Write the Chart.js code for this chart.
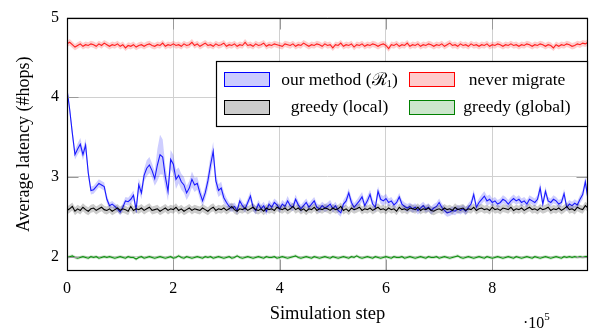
<!DOCTYPE html>
<html>
<head>
<meta charset="utf-8">
<script src="https://cdn.jsdelivr.net/npm/chart.js@4.4.1/dist/chart.umd.min.js"></script>
<style>
html, body { margin: 0; padding: 0; background: #fff; }
#wrap { width: 595px; height: 335px; }
</style>
</head>
<body>
<div id="wrap"><canvas id="c" width="595" height="335"></canvas></div>
<script>
// simulation step between two samples
const stepSize = 5000;

// our method (R1) - mean and spread
const ourMethod = [
  4.10,3.85,3.55,3.28,3.35,3.41,3.28,3.40,3.05,2.83,
  2.84,2.88,2.92,2.90,2.88,2.72,2.64,2.66,2.63,2.60,
  2.56,2.62,2.70,2.69,2.72,2.77,2.59,2.90,2.80,3.02,
  3.11,3.15,3.08,2.98,3.15,3.28,3.25,3.00,2.82,3.22,
  3.16,2.97,3.02,2.94,2.90,2.80,2.86,2.97,2.90,2.92,
  2.80,2.70,2.80,2.95,3.15,3.32,2.95,2.83,2.86,2.74,
  2.68,2.63,2.61,2.63,2.58,2.70,
  2.64,2.60,2.68,2.76,2.62,2.58,2.66,2.60,2.64,2.57,
  2.66,2.62,2.68,2.65,2.60,2.66,2.63,2.70,2.64,2.62,
  2.72,2.65,2.60,2.64,2.68,2.62,2.66,2.70,2.62,2.60,
  2.64,2.61,2.63,2.66,2.60,2.64,2.58,2.55,2.66,2.70,
  2.80,2.68,2.62,2.66,2.70,2.75,2.64,2.70,2.78,2.66,
  2.62,2.82,2.72,2.70,2.73,2.68,2.70,2.65,2.68,2.75,
  2.66,2.63,2.61,2.63,2.60,2.62,2.58,2.61,2.64,2.60,
  2.62,2.58,2.61,2.63,2.68,2.62,2.58,2.55,2.56,2.58,
  2.57,2.60,2.58,2.60,2.57,2.62,2.66,2.78,2.62,2.68,
  2.72,2.76,2.70,2.72,2.68,2.70,2.66,2.68,2.72,2.70,
  2.66,2.70,2.73,2.70,2.72,2.68,2.70,2.66,2.72,2.70,
  2.68,2.72,2.86,2.66,2.82,2.70,2.68,2.72,2.70,2.66,
  2.68,2.79,2.62,2.66,2.64,2.67,2.65,2.72,2.78,2.94,2.72
];
const ourMethodSpread = [
  0.02,0.05,0.06,0.06,0.07,0.08,0.07,0.08,0.07,0.05,
  0.05,0.05,0.05,0.05,0.05,0.05,0.04,0.04,0.04,0.04,
  0.04,0.05,0.05,0.05,0.06,0.06,0.05,0.08,0.08,0.08,
  0.10,0.10,0.09,0.09,0.20,0.25,0.22,0.14,0.12,0.12,
  0.12,0.12,0.10,0.10,0.10,0.09,0.09,0.10,0.09,0.08,
  0.08,0.07,0.08,0.10,0.12,0.12,0.10,0.08,0.08,0.07,
  0.06,0.05,0.05,0.05,0.05,0.05,
  0.05,0.05,0.05,0.06,0.05,0.05,0.05,0.05,0.05,0.05,
  0.05,0.05,0.05,0.05,0.05,0.05,0.05,0.06,0.05,0.05,
  0.06,0.05,0.05,0.05,0.05,0.05,0.05,0.05,0.05,0.05,
  0.05,0.05,0.05,0.05,0.05,0.05,0.05,0.05,0.05,0.06,
  0.06,0.06,0.05,0.05,0.06,0.06,0.05,0.06,0.06,0.06,
  0.06,0.06,0.06,0.06,0.06,0.05,0.05,0.05,0.05,0.05,
  0.05,0.05,0.05,0.05,0.05,0.05,0.05,0.05,0.05,0.05,
  0.05,0.05,0.05,0.05,0.05,0.05,0.05,0.05,0.05,0.05,
  0.05,0.05,0.05,0.05,0.05,0.05,0.05,0.06,0.05,0.05,
  0.06,0.06,0.06,0.06,0.05,0.05,0.05,0.05,0.05,0.05,
  0.05,0.05,0.05,0.05,0.05,0.05,0.05,0.05,0.05,0.05,
  0.05,0.05,0.07,0.05,0.06,0.05,0.05,0.05,0.05,0.05,
  0.05,0.06,0.05,0.05,0.05,0.05,0.05,0.05,0.06,0.07,0.05
];

// never migrate
const neverMigrate = [
  4.67,4.69,4.66,4.63,4.65,4.67,4.64,4.66,4.65,4.67,
  4.66,4.64,4.67,4.65,4.68,4.66,4.64,4.66,4.65,4.67,
  4.64,4.66,4.62,4.65,4.64,4.66,4.63,4.65,4.66,4.64,
  4.66,4.67,4.65,4.64,4.66,4.65,4.68,4.64,4.66,4.65,
  4.67,4.65,4.66,4.64,4.67,4.65,4.66,4.69,4.65,4.67,
  4.64,4.66,4.68,4.65,4.66,4.64,4.67,4.65,4.66,4.68,
  4.64,4.66,4.65,4.67,4.64,4.66,4.65,4.69,4.65,4.66,
  4.64,4.67,4.65,4.66,4.68,4.64,4.66,4.65,4.67,4.66,
  4.65,4.64,4.67,4.66,4.65,4.67,4.64,4.66,4.65,4.68,
  4.66,4.64,4.66,4.65,4.67,4.66,4.64,4.67,4.65,4.66,
  4.62,4.66,4.65,4.68,4.64,4.66,4.65,4.67,4.63,4.66,
  4.65,4.67,4.64,4.66,4.65,4.67,4.66,4.64,4.66,4.67,
  4.65,4.61,4.66,4.65,4.67,4.64,4.66,4.65,4.68,4.64,
  4.66,4.65,4.67,4.64,4.66,4.65,4.67,4.66,4.64,4.66,
  4.65,4.67,4.64,4.66,4.68,4.65,4.66,4.64,4.67,4.65,
  4.66,4.64,4.67,4.65,4.66,4.64,4.66,4.65,4.67,4.64,
  4.66,4.65,4.67,4.66,4.64,4.66,4.65,4.67,4.65,4.66,
  4.64,4.66,4.65,4.67,4.66,4.64,4.66,4.65,4.67,4.66,
  4.64,4.66,4.65,4.62,4.66,4.64,4.66,4.65,4.67,4.66,
  4.64,4.65,4.67,4.66,4.68,4.67,4.69
];
const neverMigrateSpread = 0.04;

// greedy (local)
const greedyLocal = [
  2.58,2.60,2.63,2.57,2.60,2.58,2.62,2.59,2.57,2.60,
  2.61,2.58,2.60,2.62,2.59,2.58,2.60,2.57,2.59,2.61,
  2.58,2.60,2.59,2.57,2.63,2.58,2.60,2.59,2.61,2.58,
  2.60,2.62,2.58,2.59,2.60,2.57,2.59,2.61,2.58,2.60,
  2.59,2.62,2.58,2.60,2.57,2.59,2.61,2.58,2.60,2.59,
  2.58,2.61,2.59,2.57,2.60,2.62,2.58,2.60,2.59,2.61,
  2.58,2.60,2.63,2.59,2.57,2.60,2.59,2.61,2.58,2.60,
  2.62,2.59,2.58,2.60,2.57,2.61,2.59,2.60,2.58,2.62,
  2.60,2.59,2.61,2.58,2.60,2.63,2.59,2.61,2.58,2.60,
  2.57,2.60,2.59,2.62,2.58,2.60,2.59,2.61,2.60,2.58,
  2.61,2.59,2.60,2.63,2.58,2.60,2.57,2.61,2.59,2.60,
  2.62,2.58,2.60,2.59,2.61,2.58,2.60,2.62,2.59,2.60,
  2.58,2.61,2.59,2.60,2.57,2.62,2.59,2.60,2.58,2.61,
  2.60,2.59,2.62,2.58,2.60,2.59,2.61,2.58,2.57,2.59,
  2.60,2.58,2.61,2.59,2.60,2.58,2.62,2.59,2.60,2.61,
  2.58,2.60,2.59,2.62,2.58,2.60,2.61,2.59,2.60,2.58,
  2.62,2.59,2.60,2.58,2.61,2.60,2.59,2.62,2.58,2.60,
  2.59,2.61,2.58,2.60,2.62,2.59,2.60,2.58,2.61,2.59,
  2.60,2.62,2.58,2.60,2.59,2.61,2.58,2.60,2.63,2.59,
  2.60,2.58,2.62,2.60,2.59,2.64,2.61
];
const greedyLocalSpread = 0.05;

// greedy (global)
const greedyGlobal = [
  1.99,2.00,2.01,1.99,1.98,1.99,2.00,1.99,1.98,2.00,
  1.99,2.00,1.98,1.99,2.00,1.99,2.00,1.99,1.98,1.99,
  2.00,1.99,1.98,2.00,1.99,1.99,1.97,1.99,2.00,1.98,
  1.99,2.00,1.99,1.98,1.99,2.00,1.99,1.98,1.99,2.00,
  1.98,1.99,2.01,1.99,1.98,2.00,1.99,1.98,1.99,2.00,
  1.99,1.98,2.00,1.99,2.00,1.98,1.99,2.00,1.99,1.98,
  1.99,2.00,1.98,1.99,2.01,1.99,1.98,1.99,2.00,1.99,
  1.98,1.99,2.00,1.99,1.98,2.00,1.99,1.99,2.00,1.98,
  1.99,2.00,1.99,1.98,1.99,2.00,2.01,1.99,1.98,1.99,
  2.00,1.99,1.98,2.00,1.99,1.98,1.99,2.00,1.99,1.98,
  2.00,1.99,1.98,1.99,2.00,1.99,1.98,2.00,1.99,2.01,
  1.99,1.98,1.99,2.00,1.99,1.98,2.00,1.99,1.98,1.99,
  2.00,1.99,1.98,2.00,1.99,1.99,2.00,1.98,1.99,2.00,
  1.99,1.98,1.99,2.00,1.99,1.98,2.00,1.99,1.99,2.00,
  1.98,1.99,2.00,1.99,1.98,1.99,2.00,2.01,1.99,1.98,
  1.99,2.00,1.99,1.98,1.99,2.00,1.99,1.98,2.00,1.99,
  1.98,1.99,2.00,1.99,1.98,1.99,2.00,1.99,1.98,2.00,
  1.99,1.98,1.99,2.00,1.99,1.98,2.00,1.99,1.98,1.99,
  2.00,1.99,1.98,1.99,2.00,1.99,1.98,2.00,1.99,2.00,
  1.99,2.00,1.99,2.00,1.99,2.00,2.00
];
const greedyGlobalSpread = 0.02;

const xTicks = [0, 200000, 400000, 600000, 800000];
const yTicks = [2, 3, 4, 5];

const serif = "'Liberation Serif', 'DejaVu Serif', serif";

const pts = (arr, off) => arr.map((v, i) => ({
    x: i * stepSize,
    y: v + (typeof off === "number" ? off : off[i]),
}));
const neg = (s) => (typeof s === "number" ? -s : s.map((v) => -v));

function series(label, mean, spread, line, band, order) {
    return [
        { label: label + " lo", data: pts(mean, neg(spread)), borderWidth: 0, pointRadius: 0, fill: false, order: order + 2 },
        { label: label + " hi", data: pts(mean, spread), borderWidth: 0, pointRadius: 0, fill: "-1", backgroundColor: band, order: order + 1 },
        { label: label, data: pts(mean, 0), borderColor: line, borderWidth: 1.1, pointRadius: 0, fill: false, order: order },
    ];
}

const frame = {
    id: "frame",
    afterDatasetsDraw(chart) {
        const { ctx, chartArea: a, scales } = chart;
        const l = Math.round(a.left) + 0.5, r = Math.round(a.right) - 0.5;
        const t = Math.round(a.top) + 0.5, b = Math.round(a.bottom) - 0.5;
        ctx.save();
        ctx.strokeStyle = "#999";
        ctx.lineWidth = 1;
        ctx.beginPath();
        xTicks.forEach((v) => {
            const px = Math.round(scales.x.getPixelForValue(v)) + 0.5;
            ctx.moveTo(px, t); ctx.lineTo(px, t + 11);
            ctx.moveTo(px, b); ctx.lineTo(px, b - 11);
        });
        yTicks.forEach((v) => {
            const py = Math.round(scales.y.getPixelForValue(v)) + 0.5;
            ctx.moveTo(l, py); ctx.lineTo(l + 11, py);
            ctx.moveTo(r, py); ctx.lineTo(r - 11, py);
        });
        ctx.stroke();
        ctx.strokeStyle = "#000";
        ctx.lineWidth = 1.2;
        ctx.strokeRect(l, t, r - l, b - t);
        ctx.restore();
    },
};

const legendBox = {
    id: "legendBox",
    afterDraw(chart) {
        const ctx = chart.ctx;
        ctx.save();
        ctx.fillStyle = "#fff";
        ctx.fillRect(216, 61, 372, 65);
        ctx.strokeStyle = "#000";
        ctx.lineWidth = 1.2;
        ctx.strokeRect(216.5, 61.5, 371, 65);
        const sw = (x, y, fill, line) => {
            ctx.fillStyle = fill;
            ctx.fillRect(x, y, 46, 15);
            ctx.strokeStyle = line;
            ctx.lineWidth = 1;
            ctx.strokeRect(x + 0.5, y + 0.5, 45, 14);
        };
        sw(224, 72, "#ccccff", "#0000ff");
        sw(409, 72, "#ffcccc", "#ff0000");
        sw(224, 100, "#cccccc", "#000000");
        sw(409, 100, "#cce6cc", "#008000");

        ctx.fillStyle = "#000";
        ctx.textBaseline = "middle";
        ctx.textAlign = "left";
        const f = "17.5px " + serif, fs = "11px " + serif;
        // our method (R1) with subscript
        const parts = ["our method (", "\u211B", ")"];
        ctx.font = f;
        const w0 = ctx.measureText(parts[0]).width;
        const w1 = ctx.measureText(parts[1]).width;
        const w3 = ctx.measureText(parts[2]).width;
        ctx.font = fs;
        const w2 = ctx.measureText("1").width;
        let x = 339.5 - (w0 + w1 + w2 + w3) / 2;
        ctx.font = f;
        ctx.fillText(parts[0], x, 80); x += w0;
        ctx.fillText(parts[1], x, 80); x += w1;
        ctx.font = fs;
        ctx.fillText("1", x, 84); x += w2;
        ctx.font = f;
        ctx.fillText(parts[2], x, 80);

        ctx.textAlign = "center";
        ctx.fillText("never migrate", 517, 80);
        ctx.fillText("greedy (local)", 339.5, 107.5);
        ctx.fillText("greedy (global)", 517, 107.5);

        // axis multiplier
        ctx.textAlign = "left";
        ctx.font = "16px " + serif;
        ctx.fillText("\u00B710", 523, 324);
        const wm = ctx.measureText("\u00B710").width;
        ctx.font = fs;
        ctx.fillText("5", 523 + wm, 317);
        ctx.restore();
    },
};

new Chart(document.getElementById("c"), {
    type: "line",
    data: {
        datasets: [
            ...series("our method", ourMethod, ourMethodSpread, "#1a1aff", "rgba(60,60,255,0.25)", 10),
            ...series("never migrate", neverMigrate, neverMigrateSpread, "#ff2020", "rgba(255,60,60,0.25)", 7),
            ...series("greedy (local)", greedyLocal, greedyLocalSpread, "#000000", "rgba(0,0,0,0.2)", 4),
            ...series("greedy (global)", greedyGlobal, greedyGlobalSpread, "#109010", "rgba(0,140,0,0.2)", 1),
        ],
    },
    options: {
        responsive: false,
        devicePixelRatio: 1,
        animation: false,
        layout: { padding: { top: 7, right: 7, left: 0, bottom: 0 } },
        elements: { line: { tension: 0 } },
        plugins: { legend: { display: false }, tooltip: { enabled: false } },
        scales: {
            x: {
                type: "linear",
                min: 0,
                max: 980000,
                afterBuildTicks: (s) => { s.ticks = xTicks.map((v) => ({ value: v })); },
                afterFit: (s) => { s.height = 64; },
                ticks: {
                    color: "#000",
                    font: { family: serif, size: 16 },
                    padding: 8,
                    maxRotation: 0,
                    callback: (v) => String(v / 100000),
                },
                grid: { color: "#d0d0d0", drawTicks: false },
                border: { display: false },
                title: {
                    display: true,
                    text: "Simulation step",
                    color: "#000",
                    font: { family: serif, size: 18.5 },
                    padding: { top: 0, bottom: 10 },
                },
            },
            y: {
                min: 1.82,
                max: 5,
                afterBuildTicks: (s) => { s.ticks = yTicks.map((v) => ({ value: v })); },
                afterFit: (s) => { s.width = 67; },
                ticks: {
                    color: "#000",
                    font: { family: serif, size: 16 },
                    padding: 8,
                },
                grid: { color: "#d0d0d0", drawTicks: false },
                border: { display: false },
                title: {
                    display: true,
                    text: "Average latency (#hops)",
                    color: "#000",
                    font: { family: serif, size: 18 },
                    padding: { top: 13, bottom: 0 },
                },
            },
        },
    },
    plugins: [frame, legendBox],
});
</script>
</body>
</html>
